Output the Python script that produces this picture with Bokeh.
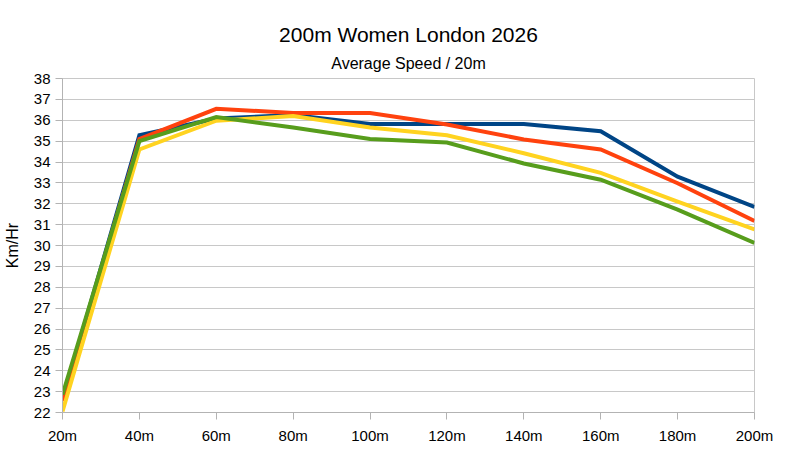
from bokeh.plotting import figure
from bokeh.models import Range1d, FixedTicker, Title
from bokeh.embed import file_html
from bokeh.resources import INLINE

categories = ["20m", "40m", "60m", "80m", "100m", "120m", "140m", "160m", "180m", "200m"]
blue = [22.6, 35.28, 36.08, 36.25, 35.82, 35.82, 35.82, 35.47, 33.3, 31.85]
red = [22.55, 35.1, 36.55, 36.35, 36.35, 35.8, 35.08, 34.6, 32.98, 31.18]
yellow = [22.05, 34.6, 35.98, 36.2, 35.65, 35.28, 34.42, 33.48, 32.1, 30.77]
green = [22.85, 35.0, 36.15, 35.65, 35.1, 34.93, 33.93, 33.15, 31.72, 30.12]
series = [(blue, "#004586"), (red, "#ff420e"), (yellow, "#ffd320"), (green, "#579d1c")]
y_ticks = list(range(22, 39))

FONT = "Liberation Sans"
x = list(range(len(categories)))

p = figure(width=791, height=446, output_backend="svg", toolbar_location=None,
           x_range=Range1d(0, len(categories) - 1), y_range=Range1d(22, 38),
           min_border_left=62, min_border_right=37, min_border_top=78, min_border_bottom=34)

p.title.text = "200m Women London 2026"
p.title.align = "center"
p.title.text_font = FONT
p.title.text_font_size = "21px"
p.title.text_font_style = "normal"
p.title.text_color = "#000000"
p.title.standoff = 2
p.add_layout(Title(text="Average Speed / 20m", align="center", text_font=FONT, standoff=13,
                   text_font_size="16px", text_font_style="normal", text_color="#000000"), "above")

for vals, col in series:
    p.line(x, vals, line_color=col, line_width=4, line_join="miter")

p.xaxis.ticker = FixedTicker(ticks=x)
p.xaxis.major_label_overrides = {i: c for i, c in enumerate(categories)}
p.yaxis.ticker = FixedTicker(ticks=y_ticks)
p.yaxis.axis_label = "Km/Hr"
p.yaxis.axis_label_text_font = FONT
p.yaxis.axis_label_text_font_size = "16px"
p.yaxis.axis_label_text_font_style = "normal"
p.yaxis.axis_label_text_color = "#000000"
p.yaxis.axis_label_standoff = 10

for ax in (p.xaxis, p.yaxis):
    ax.major_label_text_font = FONT
    ax.major_label_text_font_size = "15px"
    ax.major_label_text_color = "#000000"
    ax.axis_line_color = "#b3b3b3"
    ax.major_tick_line_color = "#b3b3b3"
    ax.major_tick_out = 7
    ax.major_tick_in = 0
    ax.minor_tick_line_color = None
p.yaxis.major_label_standoff = 5
p.xaxis.major_label_standoff = 7

p.xgrid.grid_line_color = None
p.ygrid.grid_line_color = "#c8c8c8"
p.outline_line_color = "#c8c8c8"
p.background_fill_color = "white"
p.border_fill_color = "white"

open("out.html", "w").write(file_html(p, INLINE))
